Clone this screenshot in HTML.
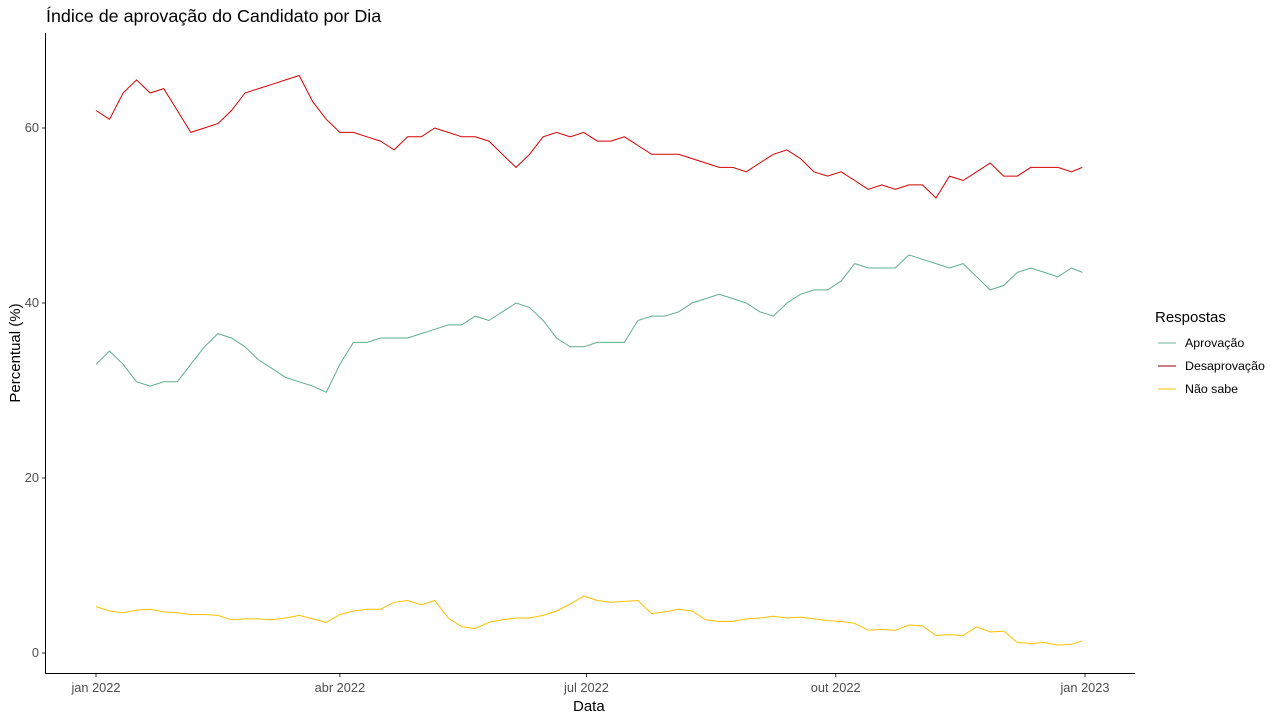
<!DOCTYPE html>
<html><head><meta charset="utf-8"><style>
body{margin:0;background:#fff;font-family:"Liberation Sans",Arial,sans-serif}
svg text{font-family:"Liberation Sans",Arial,sans-serif}
</style></head><body>
<svg id="c" width="1280" height="720">
<rect width="1280" height="720" fill="#fff"/>
<text x="46" y="22" font-size="17.9" fill="#000">Índice de aprovação do Candidato por Dia</text>
<line x1="45.5" y1="33" x2="45.5" y2="673.5" stroke="#000" stroke-width="1"/>
<line x1="45" y1="673.5" x2="1135" y2="673.5" stroke="#000" stroke-width="1"/>
<g id="axes"></g>
<g id="series"></g>
<text x="573" y="711" font-size="15">Data</text>
<text transform="translate(20,353) rotate(-90)" text-anchor="middle" font-size="15">Percentual (%)</text>
<g>
<text x="1155" y="322" font-size="15">Respostas</text>
<line x1="1158" y1="343" x2="1176" y2="343" stroke="#66b895"/>
<text x="1185" y="347" font-size="12.4">Aprovação</text>
<line x1="1158" y1="366" x2="1176" y2="366" stroke="#8b0000"/>
<text x="1185" y="370" font-size="12.4">Desaprovação</text>
<line x1="1158" y1="389" x2="1176" y2="389" stroke="#ffc000"/>
<text x="1185" y="393" font-size="12.4">Não sabe</text>
</g>
</svg>
<script>
const days=[0,5,10,15,20,25,30,35,40,45,50,55,60,65,70,75,80,85,90,95,100,105,110,115,120,125,130,135,140,145,150,155,160,165,170,175,180,185,190,195,200,205,210,215,220,225,230,235,240,245,250,255,260,265,270,275,280,285,290,295,300,305,310,315,320,325,330,335,340,345,350,355,360,364];
const desaprovacao=[62,61,64,65.5,64,64.5,62,59.5,60,60.5,62,64,64.5,65,65.5,66,63,61,59.5,59.5,59,58.5,57.5,59,59,60,59.5,59,59,58.5,57,55.5,57,59,59.5,59,59.5,58.5,58.5,59,58,57,57,57,56.5,56,55.5,55.5,55,56,57,57.5,56.5,55,54.5,55,54,53,53.5,53,53.5,53.5,52,54.5,54,55,56,54.5,54.5,55.5,55.5,55.5,55,55.5];
const aprovacao=[33,34.5,33,31,30.5,31,31,33,35,36.5,36,35,33.5,32.5,31.5,31,30.5,29.8,33,35.5,35.5,36,36,36,36.5,37,37.5,37.5,38.5,38,39,40,39.5,38,36,35,35,35.5,35.5,35.5,38,38.5,38.5,39,40,40.5,41,40.5,40,39,38.5,40,41,41.5,41.5,42.5,44.5,44,44,44,45.5,45,44.5,44,44.5,43,41.5,42,43.5,44,43.5,43,44,43.5];
const naoSabe=[5.3,4.8,4.6,4.9,5.0,4.7,4.6,4.4,4.4,4.3,3.8,3.9,3.9,3.8,4.0,4.3,3.9,3.5,4.4,4.8,5.0,5.0,5.8,6.0,5.5,6.0,4.0,3.0,2.8,3.5,3.8,4.0,4.0,4.3,4.8,5.6,6.5,6.0,5.8,5.9,6.0,4.5,4.7,5.0,4.8,3.8,3.6,3.6,3.9,4.0,4.2,4.0,4.1,3.9,3.7,3.6,3.4,2.6,2.7,2.6,3.2,3.1,2.0,2.1,2.0,3.0,2.4,2.5,1.2,1.1,1.2,0.9,1.0,1.4];
const yTicks=[0,20,40,60];
const xTickDays=[0,90,181,273,365];
const xTickLabels=["jan 2022","abr 2022","jul 2022","out 2022","jan 2023"];
const sx=d=>96+d*(989/365);
const sy=v=>653-v*8.75;
const NS="http://www.w3.org/2000/svg";
const axes=document.getElementById('axes'),ser=document.getElementById('series');
yTicks.forEach(t=>{
 const l=document.createElementNS(NS,'line');
 l.setAttribute('x1',42);l.setAttribute('x2',45);l.setAttribute('y1',sy(t));l.setAttribute('y2',sy(t));l.setAttribute('stroke','#333');
 
 
 axes.appendChild(l);
 const tx=document.createElementNS(NS,'text');
 tx.setAttribute('x',39);tx.setAttribute('y',sy(t)+4);tx.setAttribute('text-anchor','end');tx.setAttribute('font-size','12.8');tx.setAttribute('fill','#4d4d4d');
 tx.textContent=t;
 
 
 axes.appendChild(tx);
});
xTickDays.forEach((d,i)=>{
 const l=document.createElementNS(NS,'line');
 l.setAttribute('x1',sx(d));l.setAttribute('x2',sx(d));l.setAttribute('y1',674);l.setAttribute('y2',677);l.setAttribute('stroke','#333');
 
 
 axes.appendChild(l);
 const tx=document.createElementNS(NS,'text');
 tx.setAttribute('x',sx(d));tx.setAttribute('y',692);tx.setAttribute('text-anchor','middle');tx.setAttribute('font-size','12.8');tx.setAttribute('fill','#4d4d4d');
 tx.textContent=xTickLabels[i];
 
 
 axes.appendChild(tx);
});
function draw(vals,color,name){
 const p=document.createElementNS(NS,'polyline');
 p.setAttribute('points',vals.map((v,i)=>sx(days[i]).toFixed(1)+','+sy(v).toFixed(1)).join(' '));
 p.setAttribute('fill','none');p.setAttribute('stroke',color);p.setAttribute('stroke-width','1');
 
 
 ser.appendChild(p);
}
draw(desaprovacao,'#d40000','line-desaprovacao');
draw(aprovacao,'#5fae8c','line-aprovacao');
draw(naoSabe,'#ffc000','line-nao-sabe');
</script>
</body></html>
